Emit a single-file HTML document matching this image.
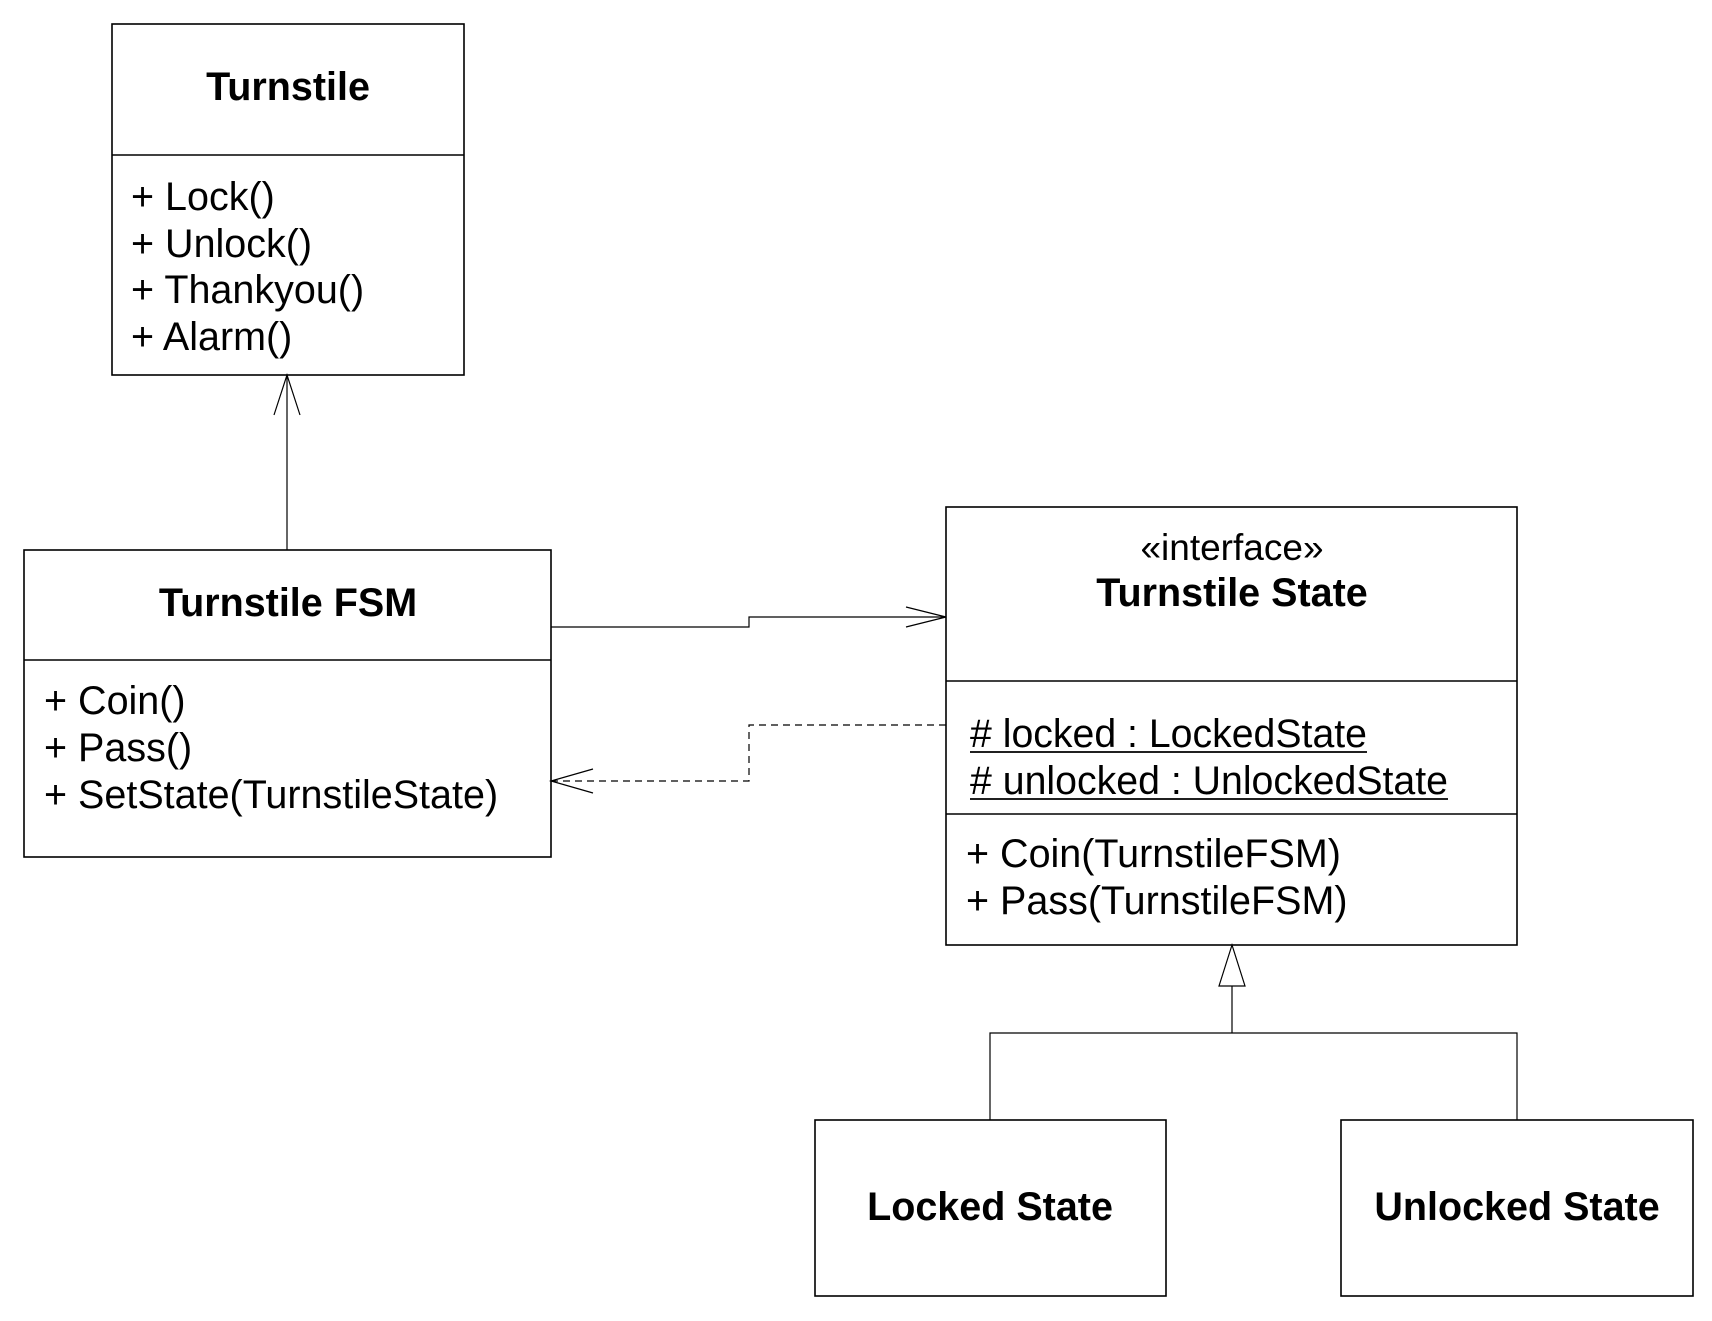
<!DOCTYPE html>
<html><head><style>
body{margin:0;background:#fff;}
svg text{font-family:"Liberation Sans",Arial,sans-serif;fill:#000;}
</style></head><body>
<svg width="1712" height="1316" xmlns="http://www.w3.org/2000/svg">
<g fill="none" stroke="#000" stroke-width="1.6">
<rect x="112" y="24" width="352" height="351"/>
<line x1="112" y1="155" x2="464" y2="155"/>
<rect x="24" y="550" width="527" height="307"/>
<line x1="24" y1="660" x2="551" y2="660"/>
<rect x="946" y="507" width="571" height="438"/>
<line x1="946" y1="681" x2="1517" y2="681"/>
<line x1="946" y1="814" x2="1517" y2="814"/>
<rect x="815" y="1120" width="351" height="176"/>
<rect x="1341" y="1120" width="352" height="176"/>
<line x1="287" y1="550" x2="287" y2="375" stroke-width="1.2"/>
<polyline points="274,415 287,375 300,415" stroke-width="1.2"/>
<polyline points="551,627 749,627 749,617 946,617" stroke-width="1.2"/>
<polyline points="906,607 946,617 906,627" stroke-width="1.2"/>
<polyline points="946,725 749,725 749,781 551,781" stroke-width="1.2" stroke-dasharray="7,5"/>
<polyline points="593,769 551,781 593,793" stroke-width="1.2"/>
<polygon points="1232,945 1219,986 1245,986" stroke-width="1.2"/>
<polyline points="1232,986 1232,1033" stroke-width="1.2"/>
<polyline points="990,1120 990,1033 1517,1033 1517,1120" stroke-width="1.2"/>
</g>
<text x="288" y="100" font-size="39.5" font-weight="bold" text-anchor="middle">Turnstile</text>
<g font-size="39.5">
<text x="131" y="210">+ Lock()</text>
<text x="131" y="257">+ Unlock()</text>
<text x="131" y="303">+ Thankyou()</text>
<text x="131" y="350">+ Alarm()</text>
</g>
<text x="288" y="616" font-size="39.5" font-weight="bold" text-anchor="middle">Turnstile FSM</text>
<g font-size="39.5">
<text x="44" y="714">+ Coin()</text>
<text x="44" y="761">+ Pass()</text>
<text x="44" y="808">+ SetState(TurnstileState)</text>
</g>
<text x="1232" y="560" font-size="37" text-anchor="middle">«interface»</text>
<text x="1232" y="606" font-size="39.5" font-weight="bold" text-anchor="middle">Turnstile State</text>
<g font-size="39.5">
<text x="970" y="747" textLength="397" lengthAdjust="spacingAndGlyphs"># locked : LockedState</text>
<text x="970" y="794" textLength="478" lengthAdjust="spacingAndGlyphs"># unlocked : UnlockedState</text>
</g>
<line x1="970" y1="752" x2="1367" y2="752" stroke="#000" stroke-width="1.8"/>
<line x1="970" y1="799" x2="1448" y2="799" stroke="#000" stroke-width="1.8"/>
<g font-size="39.5">
<text x="966" y="867">+ Coin(TurnstileFSM)</text>
<text x="966" y="914">+ Pass(TurnstileFSM)</text>
</g>
<text x="990" y="1220" font-size="39.5" font-weight="bold" text-anchor="middle">Locked State</text>
<text x="1517" y="1220" font-size="39.5" font-weight="bold" text-anchor="middle">Unlocked State</text>
</svg>
</body></html>
